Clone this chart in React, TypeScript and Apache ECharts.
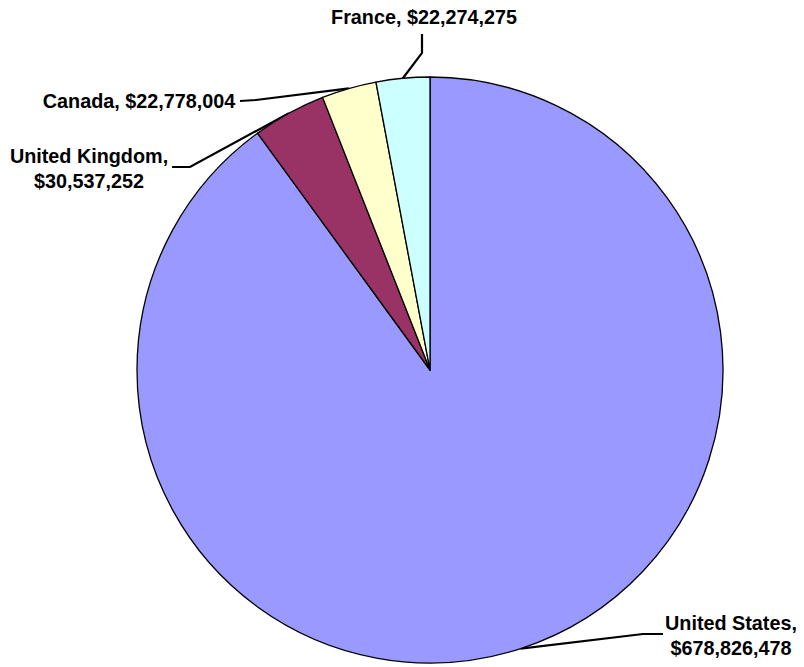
import React, { useEffect, useRef } from "react";
import * as echarts from "echarts";

const countries = ["United States", "United Kingdom", "Canada", "France"];
const revenues = [678826478, 30537252, 22778004, 22274275];
const sliceColors = ["#9999FF", "#993366", "#FFFFCC", "#CCFFFF"];

const fmt = (v: number) => "$" + v.toLocaleString("en-US");

// label anchor positions and leader-line bends (layout only)
const labelPos: [number, number][] = [
  [731, 635],
  [89, 168],
  [139, 101],
  [424, 17],
];
const bendPts: [number, number][][] = [
  [[643, 634], [663, 634]],
  [[190, 167], [172, 167]],
  [[256, 100], [240, 101]],
  [[422, 53], [422, 34]],
];
const wrapLabel = [true, true, false, false];

export default function App() {
  const ref = useRef<HTMLDivElement>(null);
  useEffect(() => {
    if (!ref.current) return;
    const chart = echarts.init(ref.current, undefined, { renderer: "svg" });
    const cx = 430;
    const cy = 370;
    const r = 293;
    const total = revenues.reduce((a, b) => a + b, 0);
    chart.setOption({
      animation: false,
      backgroundColor: "#ffffff",
      series: [
        {
          type: "pie",
          center: [cx, cy],
          radius: r,
          startAngle: 90,
          clockwise: true,
          avoidLabelOverlap: false,
          itemStyle: { borderColor: "#000000", borderWidth: 1.3 },
          label: {
            show: true,
            fontFamily: "Liberation Sans, Arial, sans-serif",
            fontWeight: "bold",
            fontSize: 19.8,
            lineHeight: 25,
            color: "#000000",
            align: "center",
            formatter: (p: any) =>
              p.name + "," + (wrapLabel[p.dataIndex] ? "\n" : " ") + fmt(p.value),
          },
          labelLine: {
            show: true,
            lineStyle: { color: "#000000", width: 2.2 },
          },
          labelLayout: (params: any) => {
            const i = params.dataIndex;
            let start: number[];
            if (params.labelLinePoints && params.labelLinePoints[0]) {
              start = params.labelLinePoints[0];
            } else {
              let before = 0;
              for (let k = 0; k < i; k++) before += revenues[k];
              const mid = ((before + revenues[i] / 2) / total) * Math.PI * 2;
              start = [cx + r * Math.sin(mid), cy - r * Math.cos(mid)];
            }
            return {
              x: labelPos[i][0],
              y: labelPos[i][1],
              align: "center",
              verticalAlign: "middle",
              labelLinePoints: [start, bendPts[i][0], bendPts[i][1]],
            };
          },
          data: countries.map((c, i) => ({
            name: c,
            value: revenues[i],
            itemStyle: { color: sliceColors[i] },
          })),
        },
      ],
    });
    return () => chart.dispose();
  }, []);
  return (
    <div
      ref={ref}
      style={{ position: "absolute", left: 0, top: 0, width: 804, height: 667 }}
    />
  );
}
